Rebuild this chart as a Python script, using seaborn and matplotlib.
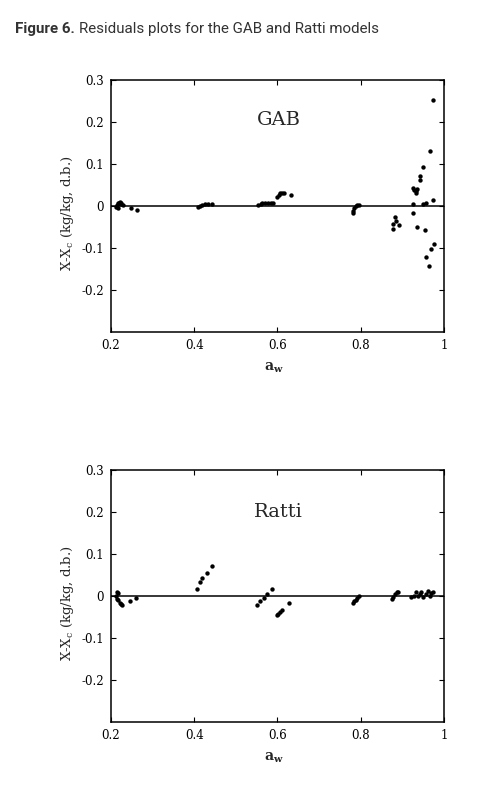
import matplotlib
matplotlib.use("Agg")
import matplotlib.pyplot as plt
import matplotlib.font_manager as fm
import pandas as pd
import seaborn as sns

# residuals: water activity vs X - Xc
gab_aw = [0.213, 0.215, 0.217, 0.219, 0.221, 0.223, 0.225, 0.228, 0.216, 0.248, 0.263,
          0.408, 0.413, 0.418, 0.426, 0.434, 0.442,
          0.554, 0.560, 0.564, 0.571, 0.577, 0.584, 0.590, 0.600, 0.603, 0.606, 0.611, 0.616, 0.632,
          0.782, 0.782, 0.785, 0.789, 0.792, 0.797,
          0.877, 0.878, 0.882, 0.885, 0.891,
          0.973, 0.966, 0.949, 0.942, 0.942, 0.925, 0.928, 0.933, 0.936, 0.934,
          0.925, 0.949, 0.958, 0.973, 0.925, 0.936, 0.955, 0.976, 0.969, 0.957, 0.963]
gab_res = [-0.003, 0.002, 0.006, 0.008, 0.009, 0.007, 0.005, 0.003, -0.004, -0.005, -0.0095,
           -0.003, 0.0, 0.003, 0.004, 0.004, 0.004,
           0.002, 0.005, 0.006, 0.008, 0.008, 0.008, 0.008, 0.021, 0.025, 0.030, 0.032, 0.032, 0.027,
           -0.017, -0.013, -0.006, 0.0, 0.003, 0.002,
           -0.043, -0.055, -0.027, -0.035, -0.046,
           0.252, 0.130, 0.092, 0.071, 0.061, 0.043, 0.038, 0.036, 0.040, 0.030,
           0.004, 0.005, 0.006, 0.014, -0.017, -0.049, -0.057, -0.090, -0.103, -0.122, -0.143]

ratti_aw = [0.214, 0.216, 0.213, 0.214, 0.218, 0.221, 0.224, 0.227, 0.246, 0.260,
            0.406, 0.414, 0.419, 0.430, 0.443,
            0.551, 0.559, 0.568, 0.576, 0.586,
            0.598, 0.602, 0.606, 0.612, 0.628,
            0.781, 0.784, 0.788, 0.792, 0.797,
            0.874, 0.878, 0.882, 0.886, 0.890,
            0.922, 0.928, 0.934, 0.938, 0.942, 0.946, 0.950, 0.957, 0.962, 0.966, 0.970, 0.974]
ratti_res = [0.010, 0.006, 0.0, -0.006, -0.010, -0.017, -0.020, -0.021, -0.013, -0.005,
             0.017, 0.033, 0.043, 0.055, 0.071,
             -0.021, -0.013, -0.004, 0.005, 0.017,
             -0.045, -0.042, -0.039, -0.033, -0.016,
             -0.017, -0.013, -0.0095, -0.004, 0.001,
             -0.007, -0.002, 0.004, 0.009, 0.010,
             -0.003, -0.001, 0.009, -0.001, 0.004, 0.009, -0.002, 0.004, 0.012, -0.001, 0.006, 0.010]

x_ticks = [0.2, 0.4, 0.6, 0.8, 1.0]
x_tick_labels = ["0.2", "0.4", "0.6", "0.8", "1"]
y_ticks = [0.3, 0.2, 0.1, 0.0, -0.1, -0.2]
y_tick_labels = ["0.3", "0.2", "0.1", "0", "-0.1", "-0.2"]

sns.set_style("ticks")
plt.rcParams["font.family"] = ["DejaVu Serif"]
plt.rcParams["mathtext.fontset"] = "dejavuserif"
plt.rcParams.update({
    "xtick.direction": "in", "ytick.direction": "in",
    "xtick.top": True, "ytick.right": True,
    "xtick.major.size": 3.6, "ytick.major.size": 3.6,
    "xtick.major.width": 0.8, "ytick.major.width": 0.8,
    "xtick.major.pad": 5, "ytick.major.pad": 5,
    "axes.linewidth": 1.1,
    "axes.edgecolor": "black",
    "xtick.color": "black", "ytick.color": "black",
})

fig = plt.figure(figsize=(4.94, 7.91), dpi=100)

panels = [
    ("GAB", gab_aw, gab_res, [0.2247, 0.5803, 0.674, 0.3186], 0.204),
    ("Ratti", ratti_aw, ratti_res, [0.2247, 0.0872, 0.674, 0.3186], 0.199),
]

for name, aw, res, rect, label_y in panels:
    ax = fig.add_axes(rect)
    df = pd.DataFrame({"aw": aw, "res": res})
    sns.scatterplot(data=df, x="aw", y="res", color="black", s=10,
                    linewidth=0, ax=ax, legend=False)
    ax.axhline(0, color="black", lw=1.1, zorder=1)
    ax.set_xlim(0.2, 1.0)
    ax.set_ylim(-0.3, 0.3)
    ax.set_xticks(x_ticks)
    ax.set_xticklabels(x_tick_labels, fontsize=8.5)
    ax.set_yticks(y_ticks)
    ax.set_yticklabels(y_tick_labels, fontsize=8.5)
    ax.set_ylabel(r"X-X$_{\mathrm{c}}$ (kg/kg, d.b.)", fontsize=9.5)
    ax.yaxis.set_label_coords(-0.105, 0.47)
    ax.set_xlabel(r"$\mathbf{a}_{\mathbf{w}}$", fontsize=10)
    ax.xaxis.set_label_coords(0.49, -0.115)
    ax.text(0.603, label_y, name, fontsize=14, ha="center", va="center")

# caption at the top, bold part then regular part
names = {f.name for f in fm.fontManager.ttflist}
if "Liberation Sans Narrow" in names:
    cap_family, cap_size = "Liberation Sans Narrow", 10.6
else:
    cap_family, cap_size = "Roboto", 10.9

t1 = fig.text(15 / 494, 1 - 33 / 791, "Figure 6.", fontsize=cap_size,
              fontweight="bold", family=cap_family, color="#333333", va="baseline")
renderer = fig.canvas.get_renderer()
bb = t1.get_window_extent(renderer)
fig.text((bb.x1 + 4) / 494, 1 - 33 / 791,
         "Residuals plots for the GAB and Ratti models", fontsize=cap_size,
         family=cap_family, color="#333333", va="baseline")

plt.savefig("out.png", dpi=100)
